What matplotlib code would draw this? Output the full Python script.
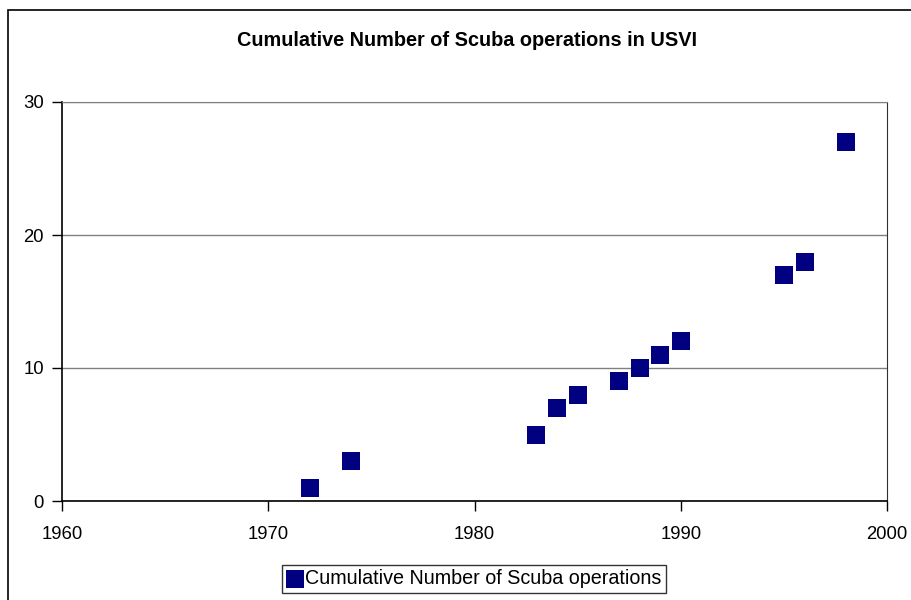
import matplotlib.pyplot as plt
from matplotlib.patches import Rectangle

plt.rcParams['font.family'] = ['Liberation Sans', 'DejaVu Sans']

years = [1972, 1974, 1983, 1984, 1985, 1987, 1988, 1989, 1990, 1995, 1996, 1998]
counts = [1, 3, 5, 7, 8, 9, 10, 11, 12, 17, 18, 27]
x_ticks = [1960, 1970, 1980, 1990, 2000]
y_ticks = [0, 10, 20, 30]

W, H = 912, 600
fig = plt.figure(figsize=(W / 100, H / 100), dpi=100)

# chart area border (runs off the right and bottom edges)
fig.patches.append(Rectangle((8 / W, -0.1), 2, (H - 10) / H + 0.1,
                             transform=fig.transFigure, fill=False,
                             edgecolor='black', linewidth=1.2))

left, right, top, bottom = 62, 887, 102, 501
ax = fig.add_axes([left / W, 1 - bottom / H, (right - left) / W, (bottom - top) / H])

ax.scatter(years, counts, marker='s', s=13 ** 2, color='#000080',
           linewidths=0, label='Cumulative Number of Scuba operations', zorder=3)

ax.set_xlim(1960, 2000)
ax.set_ylim(0, 30)
ax.set_xticks(x_ticks)
ax.set_yticks(y_ticks)
ax.yaxis.grid(True, color='#808080', linewidth=1)
ax.set_axisbelow(True)

for s in ['left', 'bottom']:
    ax.spines[s].set_color('black')
    ax.spines[s].set_linewidth(1.2)
ax.spines['top'].set_color('#808080')
ax.spines['right'].set_color('#303030')

ax.tick_params(axis='both', direction='out', length=7, width=1, labelsize=13.3, colors='black')
ax.tick_params(axis='x', pad=11)
ax.tick_params(axis='y', pad=6)

fig.text(467 / W, 1 - 40 / H, 'Cumulative Number of Scuba operations in USVI',
         ha='center', va='center', fontsize=14.3, fontweight='bold')

leg = ax.legend(loc='center', bbox_to_anchor=(474 / W, 1 - 579 / H), bbox_transform=fig.transFigure,
                frameon=True, fancybox=False, fontsize=14.2, handletextpad=0.05,
                handlelength=0.9, borderpad=0.25, borderaxespad=0, markerscale=1.0)
leg.get_frame().set_edgecolor('black')
leg.get_frame().set_linewidth(1)

fig.savefig('out.png', dpi=100)
